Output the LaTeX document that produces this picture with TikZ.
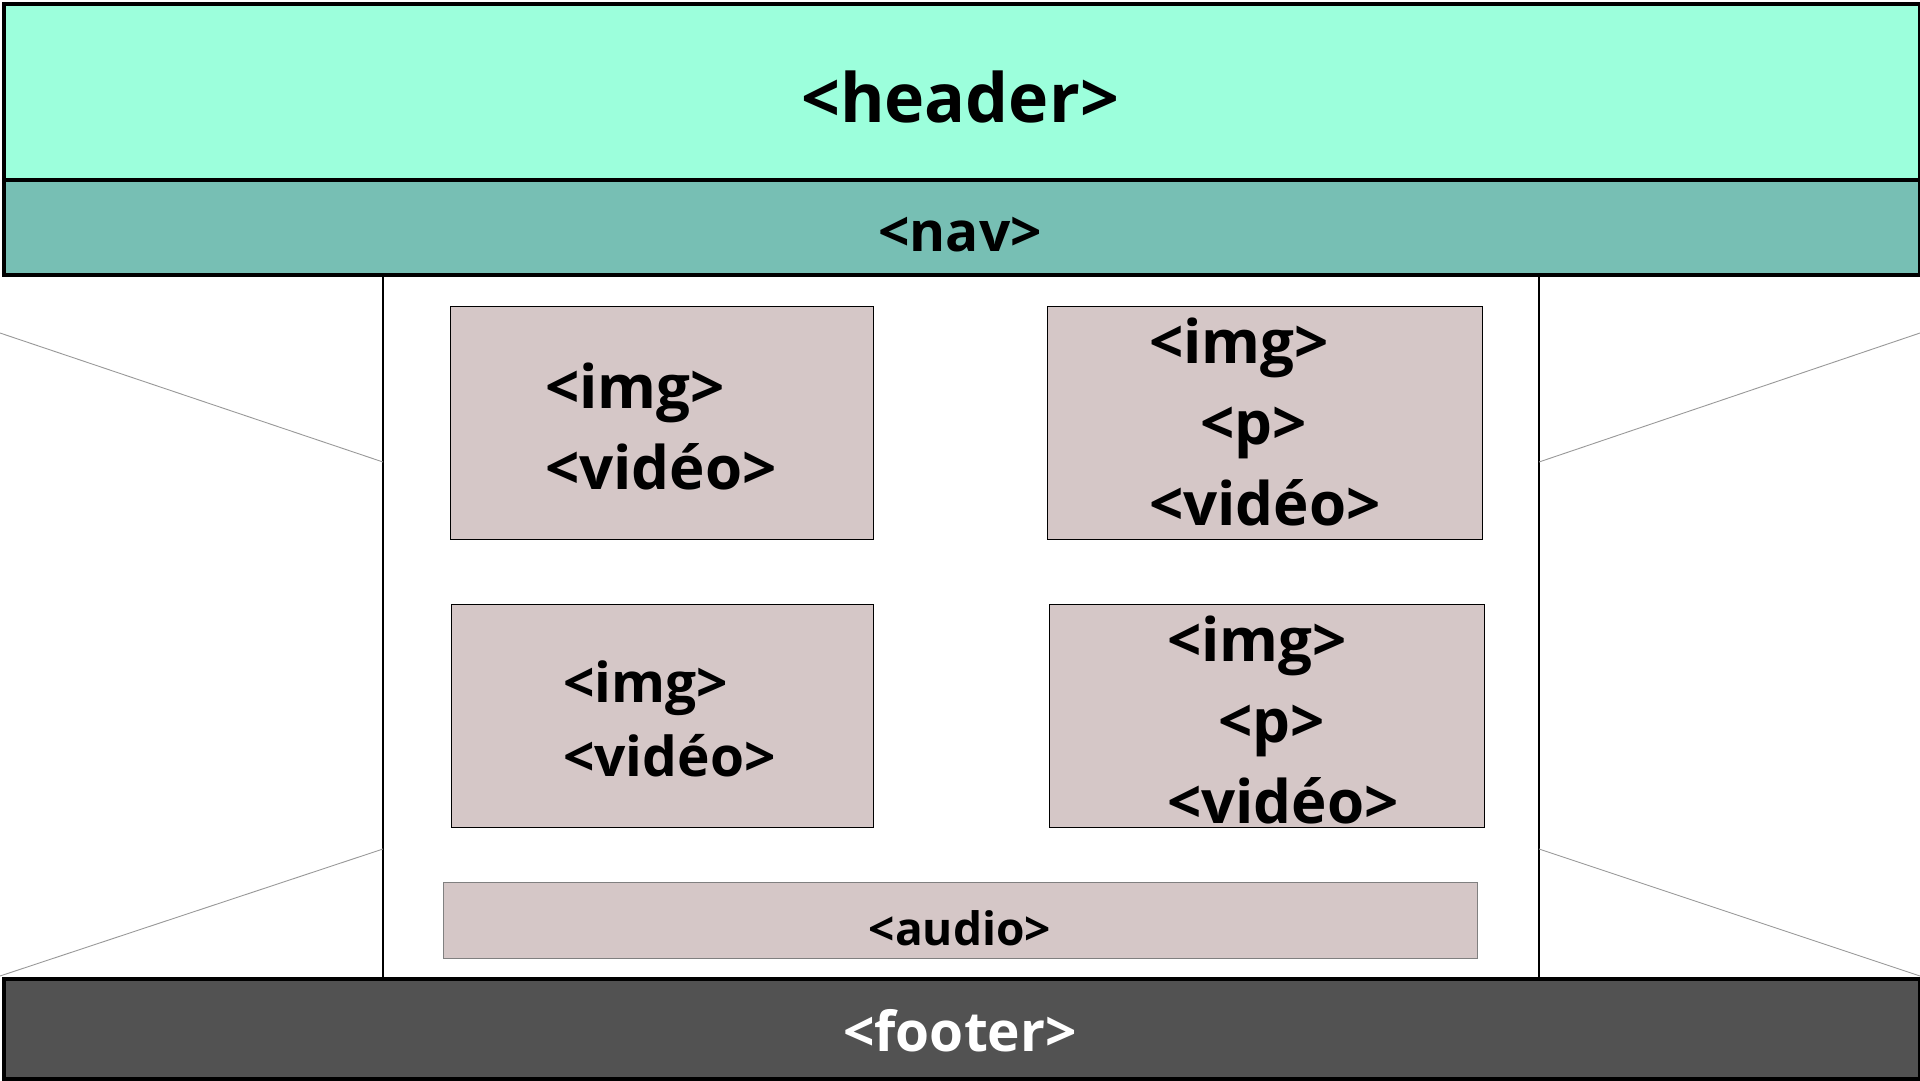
\documentclass[tikz,border=0pt]{standalone}
\usepackage{fontspec}
\setmainfont{Open Sans}
\begin{document}
\begin{tikzpicture}[x=1pt,y=-1pt,
  band/.style={draw=black,line width=4pt,inner sep=0pt,anchor=north west},
  mbox/.style={draw=black,line width=1.3pt,fill=boxfill,inner sep=0pt,anchor=north west},
  tag/.style={inner sep=0pt,anchor=base west,font=\bfseries\fontsize{60}{70}\selectfont},
  ctag/.style={inner sep=0pt,anchor=base,font=\bfseries},
  diag/.style={draw=gray!80,line width=0.9pt},
  col/.style={draw=black,line width=2.6pt}]
\definecolor{headfill}{HTML}{9CFFDC}
\definecolor{navfill}{HTML}{77BFB4}
\definecolor{boxfill}{HTML}{D5C7C7}
\definecolor{footfill}{HTML}{525252}
\useasboundingbox (0,0) rectangle (1920,1080);
\fill[white] (0,0) rectangle (1920,1080);

% columns and diagonals
\coordinate (lt) at (383,273);
\coordinate (lb) at (383,977);
\coordinate (rt) at (1539,273);
\coordinate (rb) at (1539,977);
\draw[col] (lt) -- (lb);
\draw[col] (rt) -- (rb);
\coordinate (d1a) at (0,333);  \coordinate (d1b) at (383,462);
\coordinate (d2a) at (0,976);  \coordinate (d2b) at (383,849);
\coordinate (d3a) at (1920,333); \coordinate (d3b) at (1539,462);
\coordinate (d4a) at (1920,976); \coordinate (d4b) at (1539,849);
\draw[diag] (d1a) -- (d1b);
\draw[diag] (d2a) -- (d2b);
\draw[diag] (d3a) -- (d3b);
\draw[diag] (d4a) -- (d4b);

% header, nav, footer
\node[band,fill=headfill,minimum width=1916pt,minimum height=176pt] (header) at (2,2) {};
\node[band,fill=navfill,minimum width=1916pt,minimum height=95pt] (nav) at (2,178) {};
\node[band,fill=footfill,minimum width=1916pt,minimum height=100pt] (footer) at (2,977) {};
\node[ctag,font=\bfseries\fontsize{68}{80}\selectfont] (th) at (960,122) {<header>};
\node[ctag,font=\bfseries\fontsize{55}{66}\selectfont] (tn) at (960,251) {<nav>};
\node[ctag,font=\bfseries\fontsize{55}{66}\selectfont,text=white] (tf) at (960,1051) {<footer>};

% content boxes
\node[mbox,minimum width=423pt,minimum height=233pt] (b1) at (450,306) {};
\node[mbox,minimum width=435pt,minimum height=233pt] (b2) at (1047,306) {};
\node[mbox,minimum width=422pt,minimum height=223pt] (b3) at (451,604) {};
\node[mbox,minimum width=435pt,minimum height=223pt] (b4) at (1049,604) {};
\node[draw=gray,line width=1.2pt,fill=boxfill,inner sep=0pt,anchor=north west,minimum width=1034pt,minimum height=76pt] (audio) at (443,882) {};

\node[tag] (b1a) at (545,408) {<img>};
\node[tag] (b1b) at (545,489) {<vidéo>};

\node[tag] (b2a) at (1149,363) {<img>};
\node[tag] (b2b) at (1200,444) {<p>};
\node[tag] (b2c) at (1149,525) {<vidéo>};

\node[tag,font=\bfseries\fontsize{55}{66}\selectfont] (b3a) at (563,702) {<img>};
\node[tag,font=\bfseries\fontsize{55}{66}\selectfont] (b3b) at (563,776) {<vidéo>};

\node[tag] (b4a) at (1167,661) {<img>};
\node[tag] (b4b) at (1218,742) {<p>};
\node[tag] (b4c) at (1167,823) {<vidéo>};

\node[ctag,font=\bfseries\fontsize{46}{56}\selectfont] (ta) at (960,945) {<audio>};
\end{tikzpicture}
\end{document}
